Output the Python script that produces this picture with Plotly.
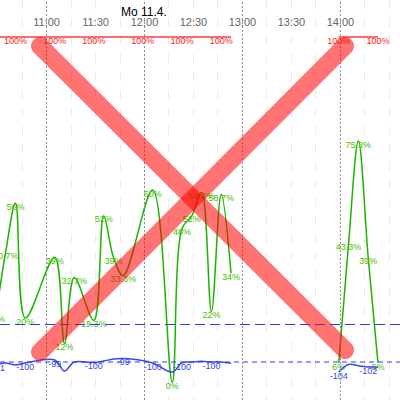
import math
import plotly.graph_objects as go

day = "2022-04-11"

# green series (percent), None = gap in data
green_times = ["10:29", "10:35", "10:41", "10:47", "11:05", "11:11", "11:17", "11:29",
               "11:35", "11:41", "11:47", "12:05", "12:17", "12:23", "12:29", "12:35",
               "12:41", "12:47", "12:53", "13:30", "13:59", "14:05", "14:11", "14:17", "14:23"]
green_vals = [21, 40.7, 56, 20, 39, 12, 32.7, 19.3,
              52, 39, 33.3, 60, 0, 48, 52, 59.3,
              22, 58.7, 34, None, 6, 43.3, 75.3, 39, 6]

# blue series, same timestamps
blue_vals = [-101, -100.4, -101.2, -100.4, -99.2, -103.6, -100, -100.2,
             -99.6, -98.8, -98.6, -100.4, -104, -100.3, -100, -99.7,
             -100, -100, -100.5, None, -104, -101, -101.5, -102, -102]
blue_show = [1, 0, 0, 1, 1, 0, 0, 1,
             0, 0, 1, 1, 0, 1, 0, 0,
             1, 0, 0, 0, 1, 0, 0, 1, 0]
blue_refs = [-85, -100]

# red series
red_times = ["10:29", "10:41", "11:05", "11:29", "11:59", "12:23", "12:47", "12:53",
             "13:30", "13:59", "14:23"]
red_vals = [100, 100, 100, 100, 100, 100, 100, 100, None, 100, 100]
red_show = [0, 1, 1, 1, 1, 1, 1, 0, 0, 1, 1]

hours = ["11:00", "12:00", "13:00", "14:00"]
day_label = "Mo 11.4."


def ts(t):
    return f"{day} {t}"


def pct(v):
    return "" if v is None else f"{v:g}%"


fig = go.Figure()

fig.add_trace(go.Scatter(
    x=[ts(t) for t in red_times], y=red_vals, yaxis="y2",
    mode="lines+text", line=dict(color="#ff3b3b", width=1.5),
    text=[pct(v) if s else "" for v, s in zip(red_vals, red_show)],
    textposition="bottom center", textfont=dict(color="#ff2020", size=9),
    connectgaps=False))

fig.add_trace(go.Scatter(
    x=[ts(t) for t in green_times], y=blue_vals, yaxis="y3",
    mode="lines+text", line=dict(color="#3c46f0", width=1.5, shape="spline", smoothing=1),
    text=[f"{round(v)}" if (s and v is not None) else "" for v, s in zip(blue_vals, blue_show)],
    textposition="bottom center", textfont=dict(color="#3349e0", size=9),
    connectgaps=False))

fig.add_trace(go.Scatter(
    x=[ts(t) for t in green_times], y=green_vals,
    mode="lines+text", line=dict(color="#1cb400", width=1.5, shape="spline", smoothing=1),
    text=[pct(v) for v in green_vals],
    textposition="bottom center", textfont=dict(color="#4cbc00", size=9),
    connectgaps=False))

for h in hours:
    fig.add_vline(x=ts(h), line_width=1, line_dash="2px,2px", line_color="#8c8c8c")

for r, dash in zip(blue_refs, ["10px,5px", "5px,4px"]):
    fig.add_shape(type="line", xref="paper", x0=0, x1=1, yref="y3", y0=r, y1=r,
                  line=dict(color="#2a3cf0", width=1, dash=dash))

fig.add_annotation(x=ts("12:00"), y=0.97, yref="paper", yanchor="middle", text=day_label,
                   showarrow=False, font=dict(color="#000", size=12))


# big red cross overlay (pixel geometry -> paper)
def stadium(x0, y0, x1, y1, r, n=20):
    a = math.atan2(y1 - y0, x1 - x0)
    pts = []
    for k in range(n + 1):
        t = a - math.pi / 2 + math.pi * k / n
        pts.append((x1 + r * math.cos(t), y1 + r * math.sin(t)))
    for k in range(n + 1):
        t = a + math.pi / 2 + math.pi * k / n
        pts.append((x0 + r * math.cos(t), y0 + r * math.sin(t)))
    return "M " + " L ".join(f"{x / 400:.4f},{1 - y / 400:.4f}" for x, y in pts) + " Z"


for seg in [(40, 46, 345, 350), (40, 352, 345, 46)]:
    fig.add_shape(type="path", path=stadium(*seg, 9), xref="paper", yref="paper",
                  fillcolor="rgba(255,0,0,0.55)", line=dict(width=0), layer="above")

fig.update_layout(
    width=400, height=400, margin=dict(l=0, r=0, t=0, b=0),
    plot_bgcolor="white", paper_bgcolor="white", showlegend=False,
    font=dict(family="Liberation Sans, Arial, sans-serif"),
    xaxis=dict(side="top", range=[ts("10:31:30"), ts("14:36:30")],
               dtick=1800000, tickformat="%H:%M", ticklabelposition="inside",
               ticks="", ticklabelstandoff=15,
               tickfont=dict(color="#666", size=11),
               showgrid=True, gridcolor="#ebebeb", griddash="dash", gridwidth=1,
               minor=dict(dtick=900000, showgrid=True, gridcolor="#ebebeb", griddash="dash"),
               showline=False, zeroline=False),
    yaxis=dict(range=[-5.6, 119.4], visible=False, showgrid=False),
    yaxis2=dict(range=[0, 110.2], overlaying="y", visible=False, showgrid=False),
    yaxis3=dict(range=[-115.2, 44.8], overlaying="y", visible=False, showgrid=False),
)

fig.write_html("out.html", config={"displayModeBar": False},
               post_script="document.body.style.margin='0';")
